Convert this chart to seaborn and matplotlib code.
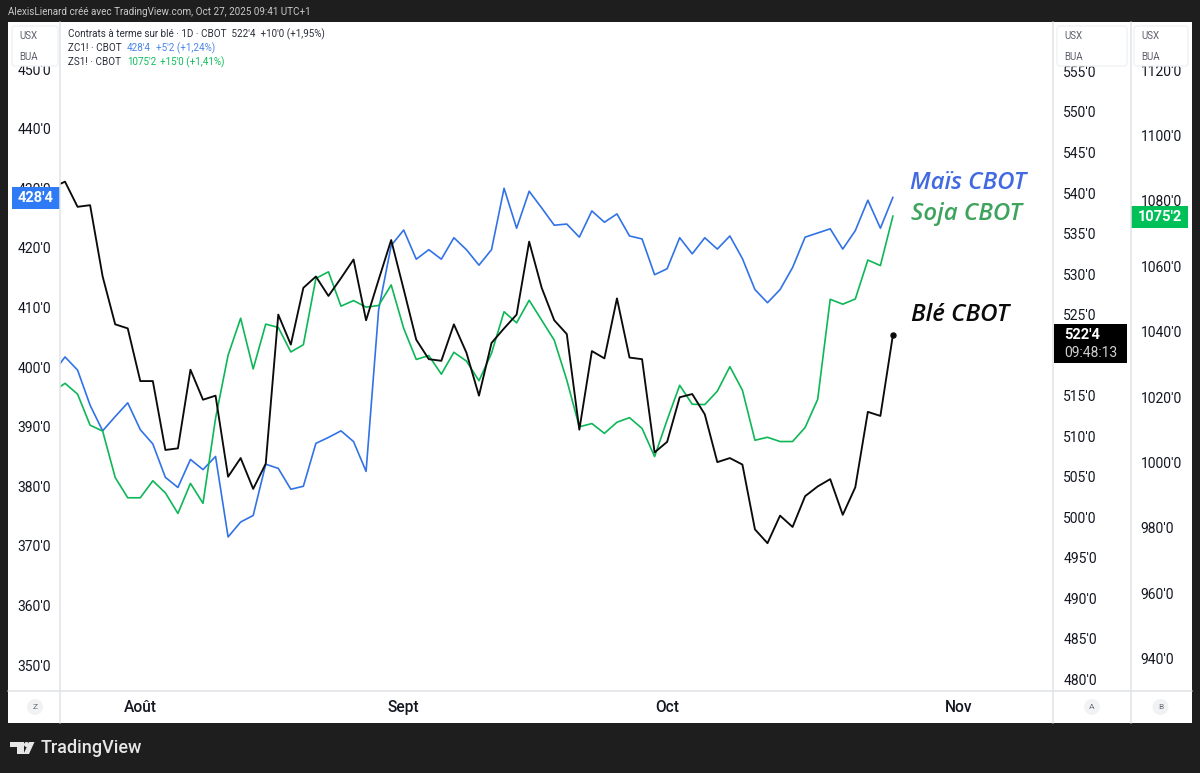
# -*- coding: utf-8 -*-

#%% import
import numpy as np
import pandas as pd
import matplotlib
matplotlib.use('Agg')
import matplotlib.pyplot as plt
import seaborn as sns
from matplotlib.patches import Rectangle, FancyBboxPatch, Circle, Polygon
from matplotlib.ticker import FuncFormatter

#%% data, trading day index 0 = 24 Jul 2025 (-1 runs off the left edge)
bar_index = list(range(-1, 67))
wheat = [540.7, 541.4, 538.3, 538.5, 529.7, 523.8, 523.3, 516.8, 516.8, 508.3, 508.5, 518.2, 514.5, 515.0,
         505.0, 507.3, 503.5, 506.6, 525.0, 521.3, 528.3, 529.7, 527.3, 529.5, 531.8, 524.3, 529.3, 534.2,
         528.1, 521.9, 519.5, 519.3, 523.8, 520.3, 515.0, 521.5, 523.3, 525.0, 534.0, 528.3, 524.3, 522.6,
         510.8, 520.5, 519.6, 527.0, 519.7, 519.5, 508.0,
         509.3, 514.8, 515.2, 512.7, 506.8, 507.3, 506.5, 498.5, 496.8, 500.2, 498.8, 502.6, 503.8, 504.7,
         500.3, 503.7, 513.0, 512.5, 522.5]
corn = [398.9, 401.7, 399.5, 393.6, 389.3, 391.7, 394.0, 389.5, 387.1, 381.5, 379.8, 384.5, 382.8, 385.0,
        371.5, 374.0, 375.1, 383.7, 383.0, 379.5, 380.0, 387.2, 388.2, 389.3, 387.5, 382.5, 409.6, 420.4,
        423.0, 418.1, 419.7, 418.1, 421.7, 419.7, 417.1, 419.7, 430.0, 423.3, 429.5, 426.7, 423.8, 424.0,
        421.8, 426.2, 424.3, 425.7, 422.0, 421.5, 415.5,
        416.5, 421.7, 419.0, 421.7, 419.8, 422.0, 418.2, 413.0, 410.8, 413.0, 416.7, 421.8, 422.5, 423.2,
        419.8, 422.9, 428.0, 423.3, 428.5]
soy = [1021.6, 1024.2, 1020.9, 1011.4, 1009.6, 995.4, 989.2, 989.2, 994.4, 990.7, 984.4, 993.6, 987.5, 1013.5,
       1032.8, 1044.1, 1028.6, 1042.3, 1041.3, 1033.8, 1036.0, 1056.3, 1058.3, 1047.8, 1049.5, 1047.5, 1048.0, 1054.3,
       1041.0, 1031.5, 1032.7, 1027.0, 1033.7, 1031.0, 1025.0, 1033.4, 1046.1, 1042.7, 1049.6, 1043.5, 1037.4, 1025.2,
       1010.9, 1011.9, 1008.9, 1012.3, 1013.7, 1010.4, 1001.8,
       1013.0, 1023.6, 1017.8, 1017.7, 1021.8, 1029.3, 1022.1, 1006.8, 1007.7, 1006.4, 1006.4, 1010.7, 1019.3, 1049.9,
       1048.4, 1050.0, 1061.9, 1060.2, 1075.4]

month_ticks = [6, 27, 48, 71.2]
month_labels = ['Août', 'Sept', 'Oct', 'Nov']
corn_ticks = [350, 360, 370, 380, 390, 400, 410, 420, 430, 440, 450]
wheat_ticks = list(range(480, 560, 5))
soy_ticks = [940, 960, 980, 1000, 1020, 1040, 1060, 1080, 1100, 1120]

df = pd.DataFrame({'bar': bar_index, 'wheat': wheat, 'corn': corn, 'soy': soy})

#%% colours
dark = '#1e1e1e'
grid = '#e0e3e8'
blue_line = '#3173e6'
green_line = '#0db757'
black_line = '#0b0b0b'

#%% figure
sns.set_theme(style='white')
plt.rcParams['font.family'] = ['Roboto', 'DejaVu Sans']
W, H = 1200, 773
fig = plt.figure(figsize=(12, 7.73), dpi=100, facecolor=dark)

bg = fig.add_axes([0, 0, 1, 1], zorder=-1)
bg.set_xlim(0, W)
bg.set_ylim(H, 0)
bg.axis('off')
bg.add_patch(Rectangle((8, 22), 1183.5, 701, fc='white', ec='none'))

rect = [60 / W, (H - 690.7) / H, 993 / W, 668.7 / H]
ax = fig.add_axes(rect, zorder=1)
ax.patch.set_visible(False)
ax_soy = fig.add_axes(rect, zorder=2, sharex=ax)
ax_soy.patch.set_visible(False)
ax_wheat = fig.add_axes(rect, zorder=3, sharex=ax)
ax_wheat.patch.set_visible(False)

sns.lineplot(data=df, x='bar', y='corn', ax=ax, color=blue_line, linewidth=1.2)
sns.lineplot(data=df, x='bar', y='soy', ax=ax_soy, color=green_line, linewidth=1.2)
sns.lineplot(data=df, x='bar', y='wheat', ax=ax_wheat, color=black_line, linewidth=1.35)
ax_wheat.plot(df.bar.iloc[-1], df.wheat.iloc[-1], 'o', color=black_line, ms=3.6)

ax.set_xlim(-0.4, 78.76)
ax.set_ylim(345.7, 457.9)
ax_wheat.set_ylim(478.6, 561.1)
ax_soy.set_ylim(930.2, 1134.7)

fmt = FuncFormatter(lambda v, pos: "{}'0".format(int(v)))
for a, ticks in ((ax, corn_ticks), (ax_wheat, wheat_ticks), (ax_soy, soy_ticks)):
    a.set_yticks(ticks)
    a.yaxis.set_major_formatter(fmt)
    a.set_xlabel('')
    a.set_ylabel('')
    for s in a.spines.values():
        s.set_visible(False)
    a.tick_params(axis='y', length=0, labelsize=10, labelcolor='#131722')

ax.tick_params(axis='y', pad=6.5)
ax_wheat.yaxis.tick_right()
ax_wheat.tick_params(axis='y', pad=7.5)
ax_soy.yaxis.tick_right()
ax_soy.tick_params(axis='y', pad=63)

ax.set_xticks(month_ticks)
ax.set_xticklabels(month_labels, fontsize=11.2, fontweight='medium', color='#131722')
ax.tick_params(axis='x', length=0, pad=7)
ax_wheat.tick_params(axis='x', bottom=False, labelbottom=False)
ax_soy.tick_params(axis='x', bottom=False, labelbottom=False)

#%% overlay: separators, price tags, scale boxes, texts
ov = fig.add_axes([0, 0, 1, 1], zorder=10)
ov.set_xlim(0, W)
ov.set_ylim(H, 0)
ov.axis('off')
ov.patch.set_visible(False)

for x in (60, 1053, 1130.5):
    ov.plot([x, x], [22, 723], color=grid, lw=1.1)
ov.plot([8, 1191.5], [690.7, 690.7], color=grid, lw=1.1)


def pixel_y(a, value):
    return H - a.transData.transform((0, value))[1]


def price_tag(a, value, x0, x1, color, label):
    y = pixel_y(a, value) + 1
    ov.add_patch(Rectangle((x0, y - 11), x1 - x0, 22, fc=color, ec='none'))
    ov.text((x0 + x1) / 2, y, label, color='white', fontsize=10.5, fontweight='bold', ha='center', va='center')


price_tag(ax, corn[-1], 12, 60, '#2f7bf5', "428'4")
price_tag(ax_soy, soy[-1], 1131, 1188, '#00c058', "1075'2")

y_wheat = pixel_y(ax_wheat, wheat[-1])
ov.add_patch(Rectangle((1054, y_wheat - 11), 72.5, 39, fc='black', ec='none'))
ov.text(1064, y_wheat, "522'4", color='white', fontsize=10.5, fontweight='bold', va='center')
ov.text(1064, y_wheat + 18, '09:48:13', color='#d0d0d0', fontsize=10, va='center')

for x0, x1 in ((12, 58), (1057, 1127), (1134, 1188)):
    ov.add_patch(FancyBboxPatch((x0, 26), x1 - x0, 40, boxstyle='round,pad=0,rounding_size=3',
                                fc='white', ec='#f0f1f3', lw=1))
    ov.text(x0 + 7, 36, 'USX', color='#5d606b', fontsize=7, va='center')
    ov.text(x0 + 7, 57.5, 'BUA', color='#5d606b', fontsize=7, va='center')

for x, letter in ((35, 'Z'), (1092, 'A'), (1160.5, 'B')):
    ov.add_patch(Circle((x, 707), 8, fc='#f1f2f4', ec='none'))
    ov.text(x, 707, letter, color='#6a6d78', fontsize=6, ha='center', va='center')

# header and status lines
ov.text(8, 12, 'AlexisLienard créé avec TradingView.com, Oct 27, 2025 09:41 UTC+1',
        color='#c9c9c9', fontsize=7.1, va='center')
ov.text(68, 34.5, "Contrats à terme sur blé · 1D · CBOT  522'4  +10'0 (+1,95%)", color='#2a2e39', fontsize=7.1, va='center')
ov.text(68, 48, 'ZC1! · CBOT', color='#2a2e39', fontsize=7.1, va='center')
ov.text(127, 48, "428'4", color='#4a86e8', fontsize=7.1, va='center')
ov.text(156, 48, "+5'2 (+1,24%)", color='#4a86e8', fontsize=7.1, va='center')
ov.text(68, 62, 'ZS1! · CBOT', color='#2a2e39', fontsize=7.1, va='center')
ov.text(127, 62, "1075'2", color='#0fbf5c', fontsize=7.1, va='center')
ov.text(160, 62, "+15'0 (+1,41%)", color='#0fbf5c', fontsize=7.1, va='center')

# hand written series names
ov.text(910, 183, 'Maïs CBOT', color='#4169e1', fontsize=17.3, style='italic', family='Open Sans', weight='semibold', va='center')
ov.text(911, 213.5, 'Soja CBOT', color='#3da35d', fontsize=17.3, style='italic', family='Open Sans', weight='semibold', va='center')
ov.text(911, 315, 'Blé CBOT', color='#0b0b0b', fontsize=17.3, style='italic', family='Open Sans', weight='semibold', va='center')

# TradingView mark
logo = '#e6e6e6'
ov.add_patch(Polygon([(10, 742), (24, 742), (24, 754), (17, 754), (17, 747), (10, 747)], fc=logo, ec='none'))
ov.add_patch(Circle((26.5, 744.5), 2.5, fc=logo, ec='none'))
ov.add_patch(Polygon([(29, 742), (34.5, 742), (29, 754), (23.5, 754)], fc=logo, ec='none'))
ov.text(40.5, 748, 'TradingView', color=logo, fontsize=13, fontweight='medium', va='center')

fig.savefig('out.png', dpi=100, facecolor=dark)
